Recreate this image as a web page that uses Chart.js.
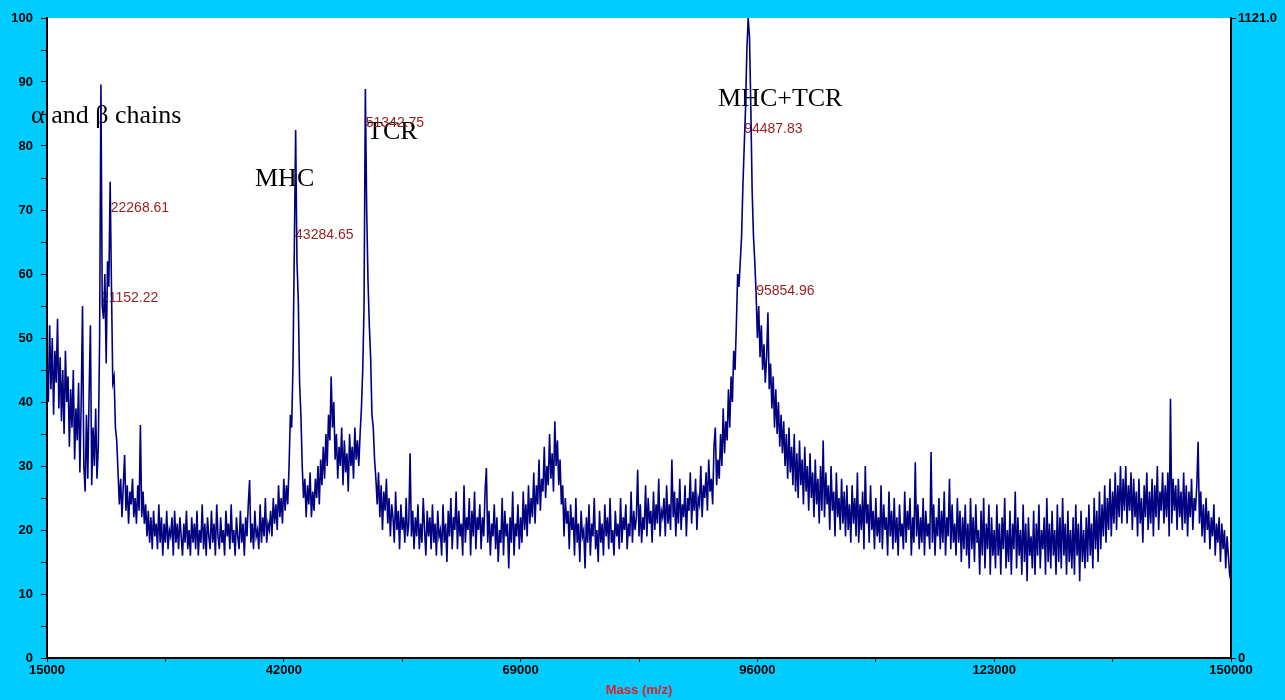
<!DOCTYPE html>
<html>
<head>
<meta charset="utf-8">
<script src="https://cdn.jsdelivr.net/npm/chart.js@4.4.1/dist/chart.umd.min.js"></script>
<style>
  html, body { margin: 0; padding: 0; background: #00CCFF; }
  #wrap { width: 1285px; height: 700px; }
</style>
</head>
<body>
<div id="wrap"><canvas id="c" width="1285" height="700"></canvas></div>
<script>
// ---- data ----
const massStart = 15000;   // first sample m/z
const massStep = 150;      // sampling interval, m/z
const intensity = [
  46, 40, 52, 42, 50, 38, 48, 43, 53, 39,
  47, 37, 45, 35, 48, 40, 44, 33, 42, 36,
  45, 31, 39, 34, 43, 29, 40, 55, 30, 26,
  38, 28, 41, 52, 27, 36, 30, 39, 28, 33,
  50, 89.6, 55, 53, 60, 46, 62, 58, 74.4, 58,
  43, 44, 36, 34, 29, 24, 28, 22, 27, 31.7,
  23, 27, 21, 26, 24, 28, 22, 25, 21, 27,
  23, 36.4, 22, 26, 21, 24, 19, 23, 18, 22,
  17, 23, 19, 21, 17, 24, 18, 22, 16, 21,
  18, 23, 17, 20, 19, 22, 16, 23, 18, 21,
  17, 22, 19, 16, 21, 18, 23, 17, 20, 16,
  22, 18, 21, 17, 23, 16, 20, 18, 24, 17,
  21, 16, 22, 19, 17, 23, 18, 21, 16, 24,
  19, 17, 22, 18, 20, 16, 23, 19, 21, 17,
  24, 18, 20, 16, 22, 19, 17, 23, 18, 21,
  16, 22, 19, 24, 27.8, 18, 21, 17, 23, 19,
  20, 17, 24, 18, 22, 19, 25, 18, 21, 20,
  23, 19, 25, 21, 24, 20, 27, 22, 25, 21,
  28, 23, 27, 24, 30, 38, 36, 46, 64, 82.5,
  62, 56, 43, 38, 30, 25, 28, 22, 27, 24,
  29, 22, 26, 23, 28, 25, 30, 24, 31, 27,
  33, 28, 35, 30, 38, 34, 44, 36, 40, 31,
  35, 28, 33, 30, 36, 27, 34, 29, 32, 26,
  35, 30, 33, 28, 36, 31, 34, 30, 35, 39,
  45, 55, 88.9, 70, 59, 52, 47, 38, 36, 31,
  28, 24, 29, 22, 27, 20, 26, 23, 28, 21,
  25, 19, 24, 22, 18, 26, 20, 23, 17, 24,
  20, 22, 18, 25, 19, 21, 32, 19, 23, 17,
  22, 19, 24, 17, 21, 18, 25, 20, 16, 23,
  19, 22, 17, 24, 18, 21, 16, 23, 19, 20,
  16, 24, 18, 21, 15, 23, 19, 25, 17, 22,
  20, 26, 17, 23, 19, 21, 16, 27, 18, 22,
  20, 25, 16, 23, 19, 26, 17, 22, 20, 24,
  17, 22, 19, 26, 29.7, 18, 23, 16, 21, 19,
  24, 17, 22, 15, 20, 18, 25, 16, 23, 19,
  21, 14, 22, 18, 26, 16, 21, 19, 24, 17,
  22, 18, 26, 20, 24, 19, 27, 21, 25, 22,
  29, 21, 27, 24, 31, 23, 28, 26, 33, 25,
  30, 27, 35, 28, 32, 26, 37, 30, 34, 27,
  31, 24, 27, 19, 25, 21, 23, 17, 24, 20,
  22, 16, 25, 18, 21, 15, 23, 19, 20, 14,
  22, 18, 24, 16, 21, 19, 25, 17, 20, 15,
  23, 18, 21, 16, 24, 19, 22, 17, 25, 18,
  20, 16, 23, 19, 21, 17, 25, 18, 22, 20,
  24, 17, 21, 19, 26, 18, 23, 20, 22, 29.4,
  19, 24, 18, 22, 20, 27, 19, 25, 21, 23,
  18, 26, 20, 24, 21, 28, 19, 23, 22, 25,
  19, 27, 21, 24, 20, 31, 22, 26, 19, 25,
  21, 28, 20, 24, 22, 27, 19, 25, 23, 29,
  21, 26, 23, 28, 20, 25, 24, 30, 22, 27,
  25, 29, 23, 31, 26, 28, 24, 33, 36, 27,
  31, 28, 35, 30, 39, 32, 37, 34, 42, 36,
  44, 40, 48, 45, 52, 60, 58, 62, 66, 74,
  80, 86, 95, 100, 97, 86, 73, 66, 62, 57,
  50, 55, 47, 52, 45, 49, 43, 47, 54, 42,
  46, 39, 44, 36, 42, 35, 40, 33, 38, 32,
  37, 30, 35, 28, 36, 29, 33, 27, 35, 26,
  32, 25, 34, 27, 31, 24, 33, 26, 30, 23,
  32, 25, 29, 22, 31, 24, 28, 21, 30, 23,
  34, 22, 29, 24, 27, 20, 30, 23, 26, 19,
  29, 22, 25, 20, 28, 21, 26, 19, 27, 20,
  24, 18, 27, 21, 25, 19, 29, 18, 24, 20,
  26, 17, 30, 21, 24, 18, 27, 20, 23, 17,
  25, 19, 22, 18, 27, 17, 24, 20, 22, 16,
  26, 19, 23, 17, 25, 18, 22, 16, 24, 19,
  21, 17, 26, 18, 23, 20, 25, 16, 22, 18,
  30.6, 19, 24, 17, 22, 18, 25, 16, 23, 19,
  21, 17, 32.2, 18, 24, 16, 22, 19, 25, 17,
  23, 18, 26, 16, 22, 19, 28, 17, 24, 18,
  21, 16, 25, 18, 23, 15, 22, 17, 24, 16,
  21, 14, 25, 17, 22, 15, 24, 18, 20, 13,
  23, 16, 25, 14, 21, 17, 24, 13, 22, 16,
  20, 14, 24, 16, 21, 13, 22, 17, 25, 14,
  20, 15, 23, 13, 21, 17, 26, 14, 22, 16,
  20, 13, 24, 15, 21, 12, 22, 16, 19, 14,
  23, 13, 21, 16, 24, 14, 20, 17, 22, 13,
  25, 15, 21, 14, 23, 16, 20, 13, 24, 15,
  22, 14, 25, 16, 21, 13, 23, 15, 20, 14,
  22, 13, 24, 16, 21, 12, 23, 15, 20, 14,
  22, 15, 24, 16, 21, 14, 25, 17, 23, 15,
  26, 17, 24, 19, 27, 18, 25, 20, 28, 19,
  26, 21, 29, 20, 27, 22, 30, 21, 28, 23,
  30, 21, 27, 23, 29, 20, 28, 22, 26, 19,
  28, 21, 25, 18, 27, 22, 29, 20, 26, 21,
  28, 19, 27, 22, 30, 20, 26, 23, 29, 21,
  27, 22, 29, 19, 40.5, 21, 28, 23, 27, 20,
  28, 22, 26, 20, 29, 21, 27, 19, 26, 22,
  28, 20, 25, 23, 27, 33.8, 21, 26, 19, 24,
  18, 25, 20, 23, 17, 22, 19, 24, 16, 21,
  18, 22, 15, 21, 17, 20, 14, 19, 16, 13,
  12
];
const xTickLabels = [15000, 42000, 69000, 96000, 123000, 150000];
const yTickLabels = [0, 10, 20, 30, 40, 50, 60, 70, 80, 90, 100];
const rightAxisMax = 1121.0;
const peakMasses = [21152.22, 22268.61, 43284.65, 51342.75, 94487.83, 95854.96];
const speciesNames = ['\u03B1 and \u03B2 chains', 'MHC', 'TCR', 'MHC+TCR'];
const axisTitle = 'Mass (m/z)';

// ---- build points ----
const points = intensity.map((v, i) => ({ x: massStart + i * massStep, y: v }));

// label anchors (data coordinates: [mass, intensity])
const speciesAnchors = [[13180, 83.6], [38716, 73.75], [51486, 81.1], [91507, 86.25]];
const peakLabelHeights = [55.6, 69.7, 65.5, 83.0, 82.0, 56.7];

const bgPlugin = {
  id: 'bg',
  beforeDraw(chart) {
    const { ctx, chartArea: a } = chart;
    ctx.save();
    ctx.fillStyle = '#00CCFF';
    ctx.fillRect(0, 0, chart.width, chart.height);
    ctx.fillStyle = '#FFFFFF';
    ctx.fillRect(a.left, a.top, a.right - a.left, a.bottom - a.top);
    ctx.restore();
  },
  beforeDatasetsDraw(chart) {
    const { ctx, scales: { x, y } } = chart;
    ctx.save();
    ctx.fillStyle = '#000000';
    ctx.font = '26px "Liberation Serif", "Times New Roman", serif';
    ctx.textAlign = 'left';
    ctx.textBaseline = 'alphabetic';
    speciesNames.forEach((t, i) => {
      ctx.fillText(t, x.getPixelForValue(speciesAnchors[i][0]), y.getPixelForValue(speciesAnchors[i][1]));
    });
    ctx.fillStyle = '#9B1C1C';
    ctx.font = '14px "Liberation Sans", Arial, sans-serif';
    peakMasses.forEach((m, i) => {
      ctx.fillText(m.toFixed(2), x.getPixelForValue(m), y.getPixelForValue(peakLabelHeights[i]));
    });
    ctx.restore();
  }
};

const tickFont = { family: '"Liberation Sans", Arial, sans-serif', size: 13, weight: 'bold' };

new Chart(document.getElementById('c'), {
  type: 'line',
  data: {
    datasets: [{
      data: points,
      borderColor: '#000080',
      borderWidth: 1.6,
      pointRadius: 0,
      tension: 0,
      fill: false
    }]
  },
  options: {
    responsive: false,
    devicePixelRatio: 1,
    animation: false,
    layout: { padding: { top: 18, left: 0, right: 0, bottom: 0 } },
    plugins: { legend: { display: false }, tooltip: { enabled: false } },
    scales: {
      x: {
        type: 'linear',
        min: 15000,
        max: 150000,
        afterFit: s => { s.height = 42; },
        afterBuildTicks: s => {
          const t = [];
          for (let k = 0; k < xTickLabels.length; k++) {
            t.push({ value: xTickLabels[k] });
            if (k < xTickLabels.length - 1) t.push({ value: (xTickLabels[k] + xTickLabels[k + 1]) / 2 });
          }
          s.ticks = t;
        },
        ticks: {
          autoSkip: false,
          maxRotation: 0,
          padding: 1,
          color: '#000',
          font: tickFont,
          callback: v => xTickLabels.includes(v) ? String(v) : ''
        },
        grid: { drawOnChartArea: false, color: '#000', tickColor: '#000', tickLength: 4 },
        border: { display: true, color: '#000', width: 2 },
        title: {
          display: true,
          text: axisTitle,
          color: '#E31E24',
          font: { family: '"Liberation Sans", Arial, sans-serif', size: 13, weight: 'bold' },
          padding: { top: 0, bottom: 2 }
        }
      },
      y: {
        type: 'linear',
        position: 'left',
        min: 0,
        max: 100,
        afterFit: s => { s.width = 47; },
        afterBuildTicks: s => {
          const t = [];
          for (let k = 0; k < yTickLabels.length; k++) {
            t.push({ value: yTickLabels[k] });
            if (k < yTickLabels.length - 1) t.push({ value: (yTickLabels[k] + yTickLabels[k + 1]) / 2 });
          }
          s.ticks = t;
        },
        ticks: {
          autoSkip: false,
          padding: 8,
          color: '#000',
          font: tickFont,
          callback: v => yTickLabels.includes(v) ? String(v) : ''
        },
        grid: { drawOnChartArea: false, color: '#000', tickColor: '#000', tickLength: 6 },
        border: { display: true, color: '#000', width: 2 }
      },
      y2: {
        type: 'linear',
        position: 'right',
        min: 0,
        max: rightAxisMax,
        afterFit: s => { s.width = 54; },
        afterBuildTicks: s => { s.ticks = [{ value: 0 }, { value: rightAxisMax }]; },
        ticks: {
          autoSkip: false,
          padding: 2,
          color: '#000',
          font: tickFont,
          callback: v => v === 0 ? '0' : v.toFixed(1)
        },
        grid: { drawOnChartArea: false, color: '#000', tickColor: '#000', tickLength: 5 },
        border: { display: true, color: '#000', width: 2 }
      }
    }
  },
  plugins: [bgPlugin]
});
</script>
</body>
</html>
